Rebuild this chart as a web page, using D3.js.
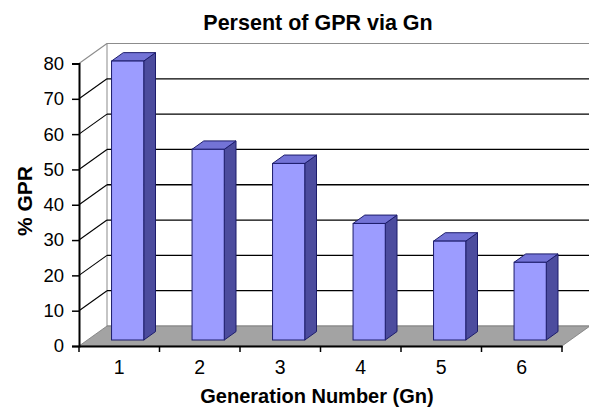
<!DOCTYPE html>
<html>
<head>
<meta charset="utf-8">
<script src="https://cdn.jsdelivr.net/npm/d3@7"></script>
<style>
  body { margin: 0; background: #fff; }
  text { font-family: "Liberation Sans", Arial, sans-serif; }
</style>
</head>
<body>
<div id="chart"></div>
<script>
// data
const generations = ["1", "2", "3", "4", "5", "6"];
const gprPercent = [79, 54, 50, 33, 28, 22];
const yTicks = [0, 10, 20, 30, 40, 50, 60, 70, 80];

const W = 589, H = 410;
const depth = { dx: 28, dy: -20 };   // 3d offset of the back wall
const zFront = 0.3, zBack = 0.72;    // bar depth inside the floor

const svg = d3.select("#chart").append("svg").attr("width", W).attr("height", H);

const x = d3.scaleBand().domain(generations).range([79, 562]);
const y = d3.scaleLinear().domain([0, 80]).range([346, 63.5]);

const x0 = x.range()[0], x1 = x.range()[1];

// back wall
svg.append("rect")
  .attr("x", x0 + depth.dx).attr("y", y(80) + depth.dy)
  .attr("width", x1 - x0).attr("height", y(0) - y(80))
  .attr("fill", "#fff").attr("stroke", "#8c8c8c").attr("stroke-width", 1);

// gridlines on back wall
svg.append("g").selectAll("line").data(yTicks.filter(t => t > 0 && t < 80)).join("line")
  .attr("x1", x0 + depth.dx).attr("x2", x1 + depth.dx)
  .attr("y1", d => y(d) + depth.dy).attr("y2", d => y(d) + depth.dy)
  .attr("stroke", "#000").attr("stroke-width", 1.3);

// side wall diagonals
svg.append("g").selectAll("line").data(yTicks.filter(t => t > 0)).join("line")
  .attr("x1", x0).attr("y1", d => y(d))
  .attr("x2", x0 + depth.dx).attr("y2", d => y(d) + depth.dy)
  .attr("stroke", d => d === 80 ? "#8c8c8c" : "#000").attr("stroke-width", 1.1);

// floor
svg.append("path")
  .attr("d", `M${x0},${y(0)} L${x1},${y(0)} L${x1 + depth.dx},${y(0) + depth.dy} L${x0 + depth.dx},${y(0) + depth.dy} Z`)
  .attr("fill", "#a3a3a3").attr("stroke", "#7a7a7a").attr("stroke-width", 0.8);

// bars
const bw = x.bandwidth() * 0.4;
const fx = zFront * depth.dx, fy = zFront * depth.dy;
const bx = zBack * depth.dx, by = zBack * depth.dy;
const rows = generations.map((g, i) => ({ g, v: gprPercent[i] }));

const bars = svg.append("g").selectAll("g").data(rows).join("g");
bars.each(function(d) {
  const g = d3.select(this);
  const L = x(d.g) + (x.bandwidth() - bw) / 2 + fx;
  const R = L + bw;
  const T = y(d.v) + fy;
  const B = y(0) + fy;
  const ddx = bx - fx, ddy = by - fy;
  // side
  g.append("path")
    .attr("d", `M${R},${T} L${R + ddx},${T + ddy} L${R + ddx},${B + ddy} L${R},${B} Z`)
    .attr("fill", "#4c4c9e").attr("stroke", "#1c1c6b").attr("stroke-width", 1);
  // top
  g.append("path")
    .attr("d", `M${L},${T} L${L + ddx},${T + ddy} L${R + ddx},${T + ddy} L${R},${T} Z`)
    .attr("fill", "#7373d6").attr("stroke", "#1c1c6b").attr("stroke-width", 1);
  // front
  g.append("rect")
    .attr("x", L).attr("y", T).attr("width", bw).attr("height", B - T)
    .attr("fill", "#9c9cff").attr("stroke", "#1c1c6b").attr("stroke-width", 1);
});

// axes
const yAxis = svg.append("g").attr("transform", `translate(${x0},0)`)
  .call(d3.axisLeft(y).tickValues(yTicks).tickSize(7).tickPadding(8));
const xAxis = svg.append("g").attr("transform", `translate(0,${y(0)})`)
  .call(d3.axisBottom(x).tickSize(0).tickPadding(14));

// boundary ticks on x axis
svg.append("g").selectAll("line")
  .data(generations.map(g => x(g)).concat([x1])).join("line")
  .attr("x1", d => d).attr("x2", d => d)
  .attr("y1", y(0)).attr("y2", y(0) + 6)
  .attr("stroke", "#000").attr("stroke-width", 1.5);

[yAxis, xAxis].forEach(a => {
  a.select(".domain").attr("stroke", "#000").attr("stroke-width", 2);
  a.selectAll(".tick line").attr("stroke", "#000").attr("stroke-width", 1.5);
  a.selectAll(".tick text").attr("fill", "#000")
    .style("font-family", "'Liberation Sans', Arial, sans-serif");
});
yAxis.selectAll(".tick text").style("font-size", "18.5px");
xAxis.selectAll(".tick text").style("font-size", "19.5px");

// titles
svg.append("text").attr("x", 318).attr("y", 30).attr("text-anchor", "middle")
  .style("font-size", "21.5px").style("font-weight", "bold").text("Persent of GPR via Gn");

svg.append("text").attr("x", 317).attr("y", 403).attr("text-anchor", "middle")
  .style("font-size", "20px").style("font-weight", "bold").text("Generation Number (Gn)");

svg.append("text").attr("transform", "translate(32,201) rotate(-90)").attr("text-anchor", "middle")
  .style("font-size", "21px").style("font-weight", "bold").text("% GPR");
</script>
</body>
</html>
